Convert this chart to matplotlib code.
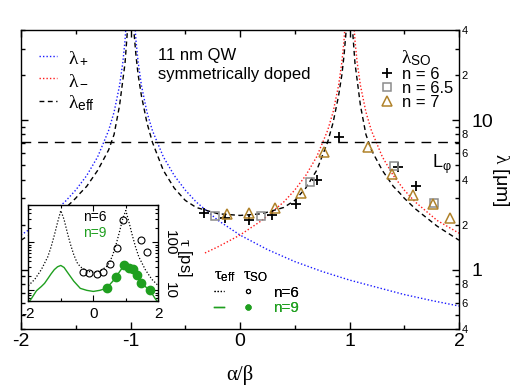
#!/usr/bin/env python3
"""Spin-orbit lengths vs alpha/beta for an 11 nm QW, with a spin-lifetime inset."""

import matplotlib

matplotlib.use("Agg")
import matplotlib.pyplot as plt
import numpy as np
from matplotlib.legend_handler import HandlerTuple
from matplotlib.lines import Line2D
from matplotlib.ticker import FixedLocator, FuncFormatter, LogLocator, NullFormatter

nan = float("nan")

# --- main panel: lambda [um] vs alpha/beta ---
X_PLUS = [-2, -1.8, -1.6, -1.5, -1.4, -1.3, -1.2, -1.15, -1.1, -1.07, -1.05, -1.03, -1.02, -1.0,
          -0.98, -0.97, -0.95, -0.93, -0.9, -0.85, -0.8, -0.7, -0.6, -0.5, -0.4, -0.2,
          0, 0.25, 0.5, 0.75, 1.0, 1.25, 1.5, 1.75, 2.0]
LAMBDA_PLUS = [1.7, 2.13, 2.83, 3.4, 4.25, 5.67, 8.5, 11.3, 17, 24.3, 34, 56.7, 85, nan,
               85, 56.7, 34, 24.3, 17, 11.3, 8.5, 5.67, 4.25, 3.4, 2.83, 2.13,
               1.7, 1.36, 1.13, 0.97, 0.85, 0.76, 0.68, 0.62, 0.57]

X_MINUS = [-0.32, -0.2, 0, 0.2, 0.4, 0.5, 0.6, 0.7, 0.8, 0.85, 0.9, 0.93, 0.95, 0.97, 0.98, 1.0,
           1.02, 1.03, 1.05, 1.07, 1.1, 1.15, 1.2, 1.3, 1.4, 1.5, 1.6, 1.8, 2.0]
LAMBDA_MINUS = [1.29, 1.42, 1.7, 2.13, 2.83, 3.4, 4.25, 5.67, 8.5, 11.3, 17, 24.3, 34, 56.7, 85, nan,
                85, 56.7, 34, 24.3, 17, 11.3, 8.5, 5.67, 4.25, 3.4, 2.83, 2.13, 1.75]

X_EFF = [-2, -1.8, -1.6, -1.5, -1.46, -1.4, -1.3, -1.2, -1.15, -1.1, -1.05, -1.03, -1.02, -1.0,
         -0.98, -0.97, -0.95, -0.93, -0.9, -0.85, -0.8, -0.7, -0.6, -0.5, -0.4, -0.2,
         0, 0.2, 0.4, 0.5, 0.6, 0.7, 0.8, 0.85, 0.9, 0.93, 0.95, 0.97, 0.98, 1.0,
         1.02, 1.03, 1.05, 1.1, 1.15, 1.2, 1.3, 1.4, 1.46, 1.5, 1.6, 1.8, 2.0]
LAMBDA_EFF = [1.57, 1.95, 2.55, 3.0, 3.24, 3.6, 4.6, 6.3, 8.0, 12.5, 24, 38, 55, nan,
              55, 40, 27, 20, 14.5, 9.6, 7.1, 4.6, 3.5, 2.9, 2.6, 2.36,
              2.3, 2.36, 2.6, 2.9, 3.5, 4.6, 7.1, 9.6, 14.5, 20, 27, 40, 55, nan,
              55, 38, 24, 12.5, 8.0, 6.3, 4.6, 3.6, 3.24, 3.0, 2.55, 1.95, 1.57]

L_PHI = 7.1

X_N6 = [-0.33, -0.14, 0.08, 0.29, 0.51, 0.70, 0.90, 1.44, 1.61]
SO_N6 = [2.37, 2.20, 2.16, 2.30, 2.76, 4.0, 7.75, 4.86, 3.64]
X_N65 = [-0.23, 0.19, 0.64, 1.41, 1.77]
SO_N65 = [2.29, 2.29, 3.84, 4.94, 2.77]
X_N7 = [-0.12, 0.08, 0.32, 0.56, 0.77, 1.17, 1.39, 1.58, 1.76, 1.92]
SO_N7 = [2.34, 2.38, 2.59, 3.26, 6.09, 6.58, 4.34, 3.15, 2.73, 2.20]

# --- inset: tau [ps] vs alpha/beta ---
X_TAU6 = [-2, -1.8, -1.6, -1.4, -1.3, -1.2, -1.1, -1.0, -0.9, -0.8, -0.7, -0.6, -0.5, -0.4, -0.2,
          0, 0.2, 0.4, 0.5, 0.6, 0.7, 0.8, 0.9, 1.0, 1.1, 1.2, 1.3, 1.4, 1.6, 1.8, 2.0]
TAU_EFF6 = [12.5, 17, 27, 50, 80, 140, 260, 460, 300, 160, 90, 55, 38, 31, 25,
            24, 25, 31, 38, 55, 90, 160, 300, 460, 260, 140, 80, 50, 27, 17, 12.5]
X_TAU9 = [-2, -1.9, -1.75, -1.6, -1.5, -1.4, -1.3, -1.2, -1.1, -1.0, -0.9, -0.8, -0.6, -0.4, -0.2,
          0, 0.2, 0.4, 0.6, 0.8, 0.9, 1.0, 1.1, 1.2, 1.3, 1.4, 1.5, 1.6, 1.75, 1.9, 2.0]
TAU_EFF9 = [5.5, 6.8, 9.8, 12, 14, 17.5, 22, 27, 31, 33, 30, 24, 15.5, 11, 10,
            9.5, 10, 11, 15.5, 24, 30, 33, 31, 27, 22, 17.5, 14, 12, 9.8, 6.8, 5.5]
X_SO6 = [-0.33, -0.12, 0.11, 0.31, 0.51, 0.72, 0.92, 1.46, 1.64]
TAU_SO6 = [24.7, 22.8, 22.2, 24.7, 35.7, 76.6, 295, 114, 62]
X_SO9 = [0.43, 0.70, 0.95, 1.11, 1.23, 1.34, 1.48, 1.75]
TAU_SO9 = [11.2, 18.9, 34, 29, 27.2, 21.1, 14.4, 10]

BLUE = "#1a1aff"
RED = "#ff1a1a"
GREEN = "#1f9f1f"
GRAY = "#8c8c8c"
BROWN = "#b0822a"

plt.rcParams["font.family"] = ["Liberation Sans", "DejaVu Sans"]
plt.rcParams["mathtext.fontset"] = "custom"
plt.rcParams["mathtext.rm"] = "Liberation Sans"
plt.rcParams["mathtext.it"] = "Liberation Serif"
plt.rcParams["axes.unicode_minus"] = False


def _minor_label(value, _pos):
    mant = value / 10 ** np.floor(np.log10(value) + 1e-9)
    digit = int(round(mant))
    return str(digit) if digit in (2, 4, 6, 8) else ""


def _plot_main(ax):
    blue, = ax.plot(X_PLUS, LAMBDA_PLUS, color=BLUE, lw=1.0, ls=(0, (1, 1.5)))
    red, = ax.plot(X_MINUS, LAMBDA_MINUS, color=RED, lw=1.0, ls=(0, (1, 1.5)))
    black, = ax.plot(X_EFF, LAMBDA_EFF, color="black", lw=1.0, ls=(0, (3.5, 2.5)))
    ax.axhline(L_PHI, color="black", lw=1.0, ls=(0, (7, 5)))

    p6, = ax.plot(X_N6, SO_N6, ls="none", marker="+", ms=7, mew=1.3, color="black")
    p65, = ax.plot(X_N65, SO_N65, ls="none", marker="s", ms=5.5, mew=1.1, mfc="none", mec=GRAY)
    p7, = ax.plot(X_N7, SO_N7, ls="none", marker="^", ms=7, mew=1.1, mfc="none", mec=BROWN)

    ax.set_xlim(-2, 2)
    ax.set_yscale("log")
    ax.set_ylim(0.4, 40)

    ax.xaxis.set_major_locator(FixedLocator([-2, -1, 0, 1, 2]))
    ax.xaxis.set_minor_locator(FixedLocator([-1.5, -0.5, 0.5, 1.5]))
    ax.xaxis.set_major_formatter(FuncFormatter(lambda v, _: f"{v:g}"))
    ax.yaxis.set_major_locator(FixedLocator([1, 10]))
    ax.yaxis.set_major_formatter(FuncFormatter(lambda v, _: f"{v:g}"))
    ax.yaxis.set_minor_locator(LogLocator(base=10, subs=np.arange(2, 10), numticks=12))
    ax.yaxis.set_minor_formatter(FuncFormatter(_minor_label))

    ax.tick_params(which="both", direction="in", top=True, bottom=True, left=True, right=True,
                   labelleft=False, labelright=True, width=1.0)
    ax.tick_params(axis="x", which="major", length=5, labelsize=14, pad=3)
    ax.tick_params(axis="x", which="minor", length=3)
    ax.tick_params(axis="y", which="major", length=5, labelsize=14, pad=9)
    ax.tick_params(axis="y", which="minor", length=3, labelsize=8, pad=2)
    for spine in ax.spines.values():
        spine.set_linewidth(1.0)

    ax.set_xlabel("α/β", family="Liberation Serif", fontsize=15, labelpad=11)
    ax.yaxis.set_label_position("right")
    ax.set_ylabel(r"$\lambda$ [μm]", fontsize=14, rotation=-90, va="center", ha="center")
    ax.yaxis.set_label_coords(1.094, 0.50)

    leg = ax.legend([blue, red, black], [r"$\lambda_+$", r"$\lambda_-$", r"$\lambda_{\rm eff}$"],
                    loc="upper left", bbox_to_anchor=(0.04, 0.935), frameon=False, fontsize=14,
                    handlelength=0.95, handletextpad=0.55, labelspacing=0.22,
                    borderpad=0, borderaxespad=0)
    ax.add_artist(leg)
    so_leg = ax.legend([p6, p65, p7], ["n = 6", "n = 6.5", "n = 7"], title=r"$\lambda_{\rm SO}$",
                       title_fontsize=14, loc="upper left", bbox_to_anchor=(0.82, 0.94),
                       frameon=False, fontsize=12, handlelength=0.8, handletextpad=0.5,
                       labelspacing=-0.05, borderpad=0, borderaxespad=0)
    so_leg.get_title().set_position((0, 0))
    ax.add_artist(so_leg)

    ax.text(0.313, 0.90, "11 nm QW", transform=ax.transAxes, fontsize=12, va="baseline")
    ax.text(0.313, 0.836, "symmetrically doped", transform=ax.transAxes, fontsize=12, va="baseline")
    ax.text(0.938, 0.538, r"$\rm L_\varphi$", transform=ax.transAxes, fontsize=13, va="baseline")

    eff6 = Line2D([], [], color="black", lw=0.9, ls=(0, (1, 1.5)))
    eff9 = Line2D([], [], color=GREEN, lw=1.0)
    so6 = Line2D([], [], ls="none", marker="o", ms=3, mfc="none", mec="black", mew=0.8)
    so9 = Line2D([], [], ls="none", marker="o", ms=3.5, color=GREEN)
    inset_leg = ax.legend([(eff6, so6), (eff9, so9)], ["n=6", "n=9"],
                          handler_map={tuple: HandlerTuple(ndivide=None, pad=1.2)},
                          title=r"$\tau_{\rm eff}$  $\tau_{\rm SO}$", title_fontsize=12,
                          alignment="left", loc="upper left", bbox_to_anchor=(0.44, 0.205),
                          frameon=False, fontsize=11, handlelength=2.6, handletextpad=1.3,
                          labelspacing=0.1, borderpad=0, borderaxespad=0)
    inset_leg.get_texts()[1].set_color(GREEN)
    ax.add_artist(inset_leg)


def _plot_inset(ax):
    ax.plot(X_TAU6, TAU_EFF6, color="black", lw=0.9, ls=(0, (1, 1.5)))
    ax.plot(X_TAU9, TAU_EFF9, color=GREEN, lw=1.0)
    ax.plot(X_SO6, TAU_SO6, ls="none", marker="o", ms=5, mfc="none", mec="black", mew=0.8)
    ax.plot(X_SO9, TAU_SO9, ls="none", marker="o", ms=6, color=GREEN)

    ax.set_xlim(-2, 2)
    ax.set_yscale("log")
    ax.set_ylim(6, 600)
    ax.xaxis.set_major_locator(FixedLocator([-2, 0, 2]))
    ax.xaxis.set_minor_locator(FixedLocator([-1, 1]))
    ax.xaxis.set_major_formatter(FuncFormatter(lambda v, _: f"{v:g}"))
    ax.yaxis.set_major_locator(FixedLocator([10, 100]))
    ax.yaxis.set_major_formatter(FuncFormatter(lambda v, _: f"{v:g}"))
    ax.yaxis.set_minor_locator(LogLocator(base=10, subs=np.arange(2, 10), numticks=12))
    ax.yaxis.set_minor_formatter(NullFormatter())
    ax.tick_params(which="both", direction="in", top=True, bottom=True, left=True, right=True,
                   labelleft=False, labelright=True, labelsize=11, width=0.8)
    ax.tick_params(which="major", length=4)
    ax.tick_params(which="minor", length=2.5)
    ax.tick_params(axis="x", pad=4)
    ax.tick_params(axis="y", pad=3)
    for label in ax.get_yticklabels():
        label.set_rotation(-90)
        label.set_va("center")
    for spine in ax.spines.values():
        spine.set_linewidth(1.0)

    ax.yaxis.set_label_position("right")
    ax.set_ylabel(r"$\tau$ [ps]", fontsize=12, rotation=-90, va="center", ha="center")
    ax.yaxis.set_label_coords(1.2, 0.45)

    ax.text(0.42, 0.87, "n=6", transform=ax.transAxes, fontsize=10, va="center")
    ax.text(0.42, 0.713, "n=9", transform=ax.transAxes, fontsize=10, va="center", color=GREEN)


def main():
    fig = plt.figure(figsize=(5.19, 3.90), dpi=100)
    ax = fig.add_axes([21 / 519, 61 / 390, 438 / 519, 299 / 390])
    _plot_main(ax)
    inset = fig.add_axes([28.3 / 519, 89 / 390, 130 / 519, 96 / 390])
    _plot_inset(inset)
    fig.savefig("out.png", dpi=100)
    plt.close(fig)


if __name__ == "__main__":
    main()
